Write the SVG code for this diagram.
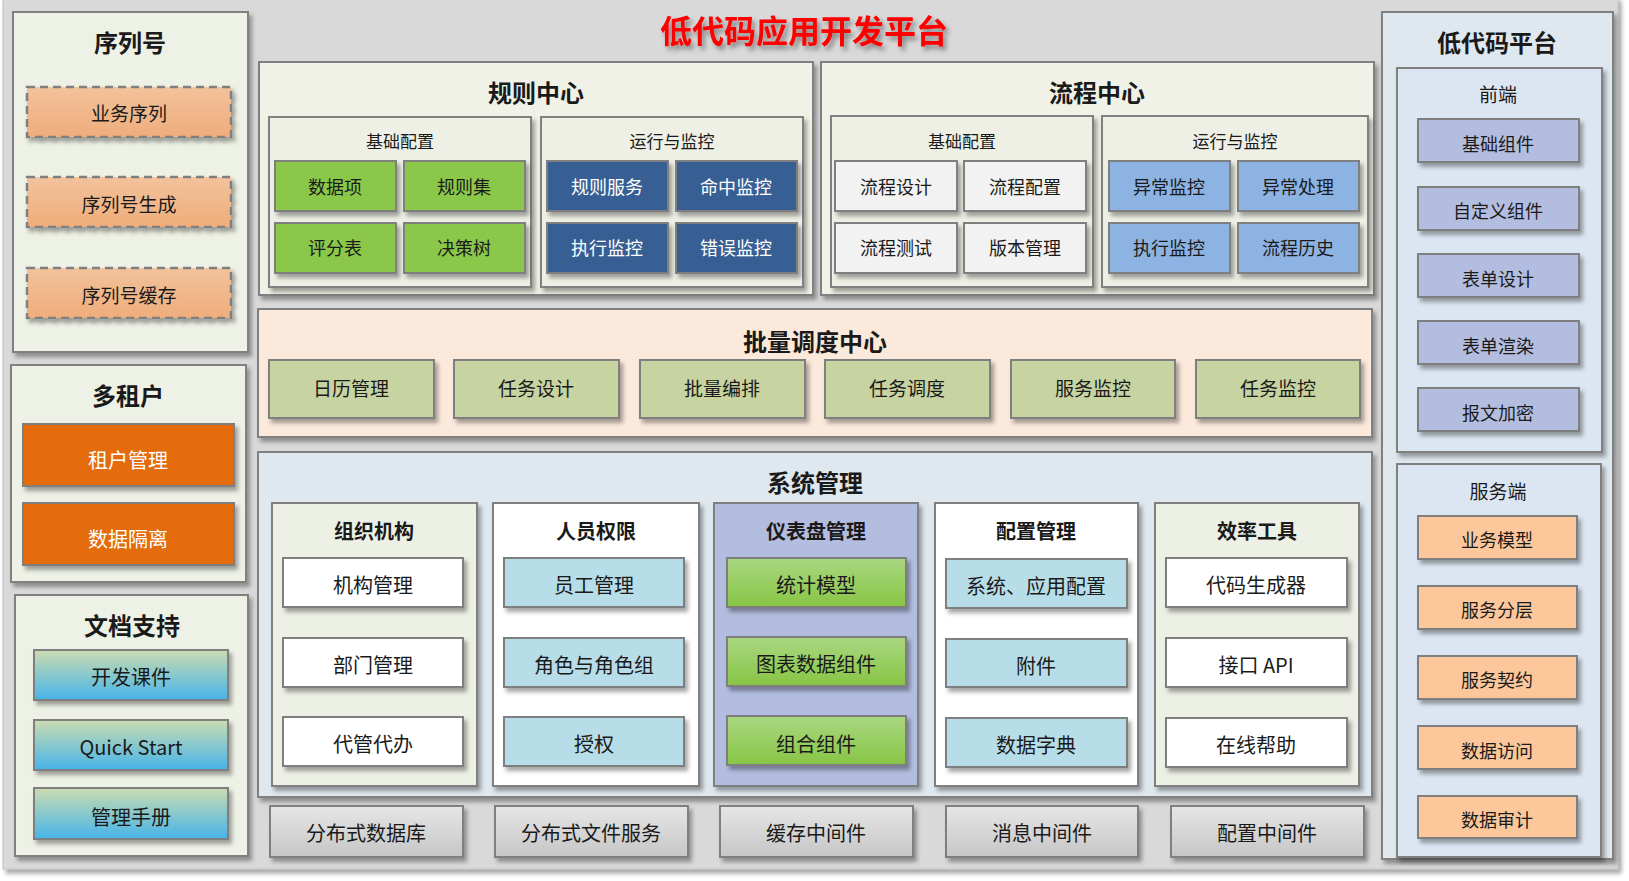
<svg xmlns="http://www.w3.org/2000/svg" width="1629" height="881" viewBox="0 0 1629 881">
<defs>
<filter id="sh" x="-10%" y="-10%" width="130%" height="140%">
<feDropShadow dx="3" dy="4" stdDeviation="2" flood-color="#000" flood-opacity="0.35"/>
</filter>
<filter id="tsh" x="-10%" y="-30%" width="130%" height="180%">
<feDropShadow dx="3" dy="4" stdDeviation="2.5" flood-color="#000" flood-opacity="0.4"/>
</filter>
<linearGradient id="gPeach" x1="0" y1="0" x2="0" y2="1"><stop offset="0" stop-color="#f2c29c"/><stop offset="1" stop-color="#efad7b"/></linearGradient>
<linearGradient id="gDoc" x1="0" y1="0" x2="0" y2="1"><stop offset="0" stop-color="#cbdcb0"/><stop offset="1" stop-color="#46b4ea"/></linearGradient>
<linearGradient id="gGreen" x1="0" y1="0" x2="0" y2="1"><stop offset="0" stop-color="#a9d781"/><stop offset="1" stop-color="#88c545"/></linearGradient>
<linearGradient id="gGrey" x1="0" y1="0" x2="0" y2="1"><stop offset="0" stop-color="#e6e6e6"/><stop offset="1" stop-color="#c6c6c6"/></linearGradient>
</defs>
<style>
text{font-family:"Noto Sans CJK SC","Noto Sans",sans-serif;fill:#1a1a1a;text-anchor:middle;dominant-baseline:central}
.pan{stroke:#808080;stroke-width:2;filter:url(#sh)}
.box{stroke:#7f7f7f;stroke-width:2;filter:url(#sh)}
.t24{font-size:24px;font-weight:bold}
.t20b{font-size:20px;font-weight:bold}
.t20{font-size:20px}
.t19{font-size:19px}
.t18{font-size:18px}
.t17{font-size:17px}
.w{fill:#ffffff}
.dash{stroke:#7f7f7f;stroke-width:2.5;stroke-dasharray:8 5;fill:url(#gPeach);filter:url(#sh)}
</style>
<rect x="0" y="0" width="1629" height="881" fill="#ffffff"/>
<rect x="3" y="-3" width="1615" height="872" fill="#d9d9d9" stroke="#bfbfbf" stroke-width="1" filter="url(#sh)"/>

<text x="804" y="29" font-size="32" font-weight="bold" style="fill:#ff0000" filter="url(#tsh)">低代码应用开发平台</text>

<g id="xuliehao">
<rect class="pan" x="13" y="12" width="235" height="340" fill="#eef1e6"/>
<text class="t24" x="130" y="41">序列号</text>
<rect class="dash" x="27" y="87" width="204" height="50"/>
<text class="t19" x="129" y="112">业务序列</text>
<rect class="dash" x="27" y="177" width="204" height="50"/>
<text class="t19" x="129" y="203">序列号生成</text>
<rect class="dash" x="27" y="268" width="204" height="50"/>
<text class="t19" x="129" y="294">序列号缓存</text>
</g>

<g id="duozuhu">
<rect class="pan" x="11" y="365" width="235" height="217" fill="#eef1e6"/>
<text class="t24" x="128" y="394">多租户</text>
<rect class="box" x="23" y="424" width="211" height="62" fill="#e46c0a"/>
<text class="t20 w" x="128" y="459">租户管理</text>
<rect class="box" x="23" y="503" width="211" height="62" fill="#e46c0a"/>
<text class="t20 w" x="128" y="538">数据隔离</text>
</g>

<g id="wendang">
<rect class="pan" x="15" y="595" width="233" height="261" fill="#eef1e6"/>
<text class="t24" x="132" y="624">文档支持</text>
<rect class="box" x="34" y="650" width="194" height="50" fill="url(#gDoc)"/>
<text class="t20" x="131" y="676">开发课件</text>
<rect class="box" x="34" y="720" width="194" height="50" fill="url(#gDoc)"/>
<text class="t20" x="131" y="746">Quick Start</text>
<rect class="box" x="34" y="788" width="194" height="51" fill="url(#gDoc)"/>
<text class="t20" x="131" y="816">管理手册</text>
</g>

<g id="guize">
<rect class="pan" x="259" y="62" width="554" height="233" fill="#f0f2e7"/>
<text class="t24" x="536" y="91">规则中心</text>
<rect class="pan" x="269" y="117" width="262" height="170" fill="#eef0e6"/>
<text class="t17" x="400" y="140">基础配置</text>
<rect class="box" x="275" y="161" width="121" height="50" fill="#8bc84a"/>
<text class="t18" x="335" y="186">数据项</text>
<rect class="box" x="404" y="161" width="121" height="50" fill="#8bc84a"/>
<text class="t18" x="464" y="186">规则集</text>
<rect class="box" x="275" y="223" width="121" height="50" fill="#8bc84a"/>
<text class="t18" x="335" y="247">评分表</text>
<rect class="box" x="404" y="223" width="121" height="50" fill="#8bc84a"/>
<text class="t18" x="464" y="247">决策树</text>
<rect class="pan" x="541" y="117" width="262" height="170" fill="#eef0e6"/>
<text class="t17" x="672" y="140">运行与监控</text>
<rect class="box" x="547" y="161" width="121" height="50" fill="#375e93"/>
<text class="t18 w" x="607" y="186">规则服务</text>
<rect class="box" x="676" y="161" width="121" height="50" fill="#375e93"/>
<text class="t18 w" x="736" y="186">命中监控</text>
<rect class="box" x="547" y="223" width="121" height="50" fill="#375e93"/>
<text class="t18 w" x="607" y="247">执行监控</text>
<rect class="box" x="676" y="223" width="121" height="50" fill="#375e93"/>
<text class="t18 w" x="736" y="247">错误监控</text>
</g>

<g id="liucheng">
<rect class="pan" x="821" y="62" width="553" height="233" fill="#f0f2e7"/>
<text class="t24" x="1097" y="91">流程中心</text>
<rect class="pan" x="831" y="116" width="262" height="171" fill="#eef0e6"/>
<text class="t17" x="962" y="140">基础配置</text>
<rect class="box" x="835" y="161" width="122" height="50" fill="#f2f2f2"/>
<text class="t18" x="896" y="186">流程设计</text>
<rect class="box" x="964" y="161" width="122" height="50" fill="#f2f2f2"/>
<text class="t18" x="1025" y="186">流程配置</text>
<rect class="box" x="835" y="223" width="122" height="50" fill="#f2f2f2"/>
<text class="t18" x="896" y="247">流程测试</text>
<rect class="box" x="964" y="223" width="122" height="50" fill="#f2f2f2"/>
<text class="t18" x="1025" y="247">版本管理</text>
<rect class="pan" x="1102" y="116" width="266" height="171" fill="#eef0e6"/>
<text class="t17" x="1235" y="140">运行与监控</text>
<rect class="box" x="1109" y="161" width="121" height="50" fill="#8db3e2"/>
<text class="t18" x="1169" y="186">异常监控</text>
<rect class="box" x="1238" y="161" width="121" height="50" fill="#8db3e2"/>
<text class="t18" x="1298" y="186">异常处理</text>
<rect class="box" x="1109" y="223" width="121" height="50" fill="#8db3e2"/>
<text class="t18" x="1169" y="247">执行监控</text>
<rect class="box" x="1238" y="223" width="121" height="50" fill="#8db3e2"/>
<text class="t18" x="1298" y="247">流程历史</text>
</g>

<g id="piliang">
<rect class="pan" x="258" y="309" width="1114" height="128" fill="#fbe9db"/>
<text class="t24" x="815" y="340">批量调度中心</text>
<rect class="box" x="269" y="360" width="165" height="58" fill="#c7d4a2"/>
<text class="t19" x="351" y="387">日历管理</text>
<rect class="box" x="454" y="360" width="165" height="58" fill="#c7d4a2"/>
<text class="t19" x="536" y="387">任务设计</text>
<rect class="box" x="640" y="360" width="165" height="58" fill="#c7d4a2"/>
<text class="t19" x="722" y="387">批量编排</text>
<rect class="box" x="825" y="360" width="165" height="58" fill="#c7d4a2"/>
<text class="t19" x="907" y="387">任务调度</text>
<rect class="box" x="1011" y="360" width="164" height="58" fill="#c7d4a2"/>
<text class="t19" x="1093" y="387">服务监控</text>
<rect class="box" x="1196" y="360" width="164" height="58" fill="#c7d4a2"/>
<text class="t19" x="1278" y="387">任务监控</text>
</g>

<g id="xitong">
<rect class="pan" x="258" y="452" width="1114" height="345" fill="#dfe8ef"/>
<text class="t24" x="815" y="481">系统管理</text>
</g>

<g id="zuzhi">
<rect class="pan" x="272" y="503" width="205" height="283" fill="#edf0e5"/>
<text class="t20b" x="374" y="530">组织机构</text>
<rect class="box" x="283" y="558" width="180" height="49" fill="#ffffff"/>
<text class="t20" x="373" y="584">机构管理</text>
<rect class="box" x="283" y="638" width="180" height="49" fill="#ffffff"/>
<text class="t20" x="373" y="664">部门管理</text>
<rect class="box" x="283" y="717" width="180" height="49" fill="#ffffff"/>
<text class="t20" x="373" y="743">代管代办</text>
</g>

<g id="renyuan">
<rect class="pan" x="493" y="503" width="206" height="283" fill="#ffffff"/>
<text class="t20b" x="596" y="530">人员权限</text>
<rect class="box" x="504" y="558" width="180" height="49" fill="#b7dde8"/>
<text class="t20" x="594" y="584">员工管理</text>
<rect class="box" x="504" y="638" width="180" height="49" fill="#b7dde8"/>
<text class="t20" x="594" y="664">角色与角色组</text>
<rect class="box" x="504" y="717" width="180" height="49" fill="#b7dde8"/>
<text class="t20" x="594" y="743">授权</text>
</g>

<g id="yibiaopan">
<rect class="pan" x="714" y="503" width="204" height="283" fill="#b3bde0"/>
<text class="t20b" x="816" y="530">仪表盘管理</text>
<rect class="box" x="727" y="558" width="179" height="49" fill="url(#gGreen)"/>
<text class="t20" x="816" y="584">统计模型</text>
<rect class="box" x="727" y="637" width="179" height="49" fill="url(#gGreen)"/>
<text class="t20" x="816" y="663">图表数据组件</text>
<rect class="box" x="727" y="716" width="179" height="49" fill="url(#gGreen)"/>
<text class="t20" x="816" y="743">组合组件</text>
</g>

<g id="peizhi">
<rect class="pan" x="935" y="503" width="203" height="283" fill="#ffffff"/>
<text class="t20b" x="1036" y="530">配置管理</text>
<rect class="box" x="946" y="559" width="181" height="49" fill="#b7dde8"/>
<text class="t20" x="1036" y="585">系统、应用配置</text>
<rect class="box" x="946" y="639" width="181" height="48" fill="#b7dde8"/>
<text class="t20" x="1036" y="665">附件</text>
<rect class="box" x="946" y="718" width="181" height="49" fill="#b7dde8"/>
<text class="t20" x="1036" y="744">数据字典</text>
</g>

<g id="xiaolv">
<rect class="pan" x="1155" y="503" width="204" height="283" fill="#edf0e5"/>
<text class="t20b" x="1257" y="530">效率工具</text>
<rect class="box" x="1166" y="558" width="181" height="49" fill="#ffffff"/>
<text class="t20" x="1256" y="584">代码生成器</text>
<rect class="box" x="1166" y="638" width="181" height="49" fill="#ffffff"/>
<text class="t20" x="1256" y="664">接口 API</text>
<rect class="box" x="1166" y="718" width="181" height="49" fill="#ffffff"/>
<text class="t20" x="1256" y="744">在线帮助</text>
</g>

<g id="zhongjianjian">
<rect class="box" x="270" y="806" width="193" height="51" fill="url(#gGrey)"/>
<text class="t20" x="366" y="832">分布式数据库</text>
<rect class="box" x="495" y="806" width="193" height="51" fill="url(#gGrey)"/>
<text class="t20" x="591" y="832">分布式文件服务</text>
<rect class="box" x="720" y="806" width="193" height="51" fill="url(#gGrey)"/>
<text class="t20" x="816" y="832">缓存中间件</text>
<rect class="box" x="946" y="806" width="192" height="51" fill="url(#gGrey)"/>
<text class="t20" x="1042" y="832">消息中间件</text>
<rect class="box" x="1171" y="806" width="193" height="51" fill="url(#gGrey)"/>
<text class="t20" x="1267" y="832">配置中间件</text>
</g>

<g id="pingtai">
<rect class="pan" x="1382" y="12" width="231" height="847" fill="#dfe8ef"/>
<text class="t24" x="1497" y="41">低代码平台</text>
</g>

<g id="qianduan">
<rect class="pan" x="1397" y="68" width="205" height="384" fill="#dce6f2"/>
<text class="t19" x="1498" y="93">前端</text>
<rect class="box" x="1418" y="119" width="161" height="43" fill="#b3bde0"/>
<text class="t18" x="1498" y="143">基础组件</text>
<rect class="box" x="1418" y="187" width="161" height="43" fill="#b3bde0"/>
<text class="t18" x="1498" y="210">自定义组件</text>
<rect class="box" x="1418" y="254" width="161" height="43" fill="#b3bde0"/>
<text class="t18" x="1498" y="278">表单设计</text>
<rect class="box" x="1418" y="321" width="161" height="43" fill="#b3bde0"/>
<text class="t18" x="1498" y="345">表单渲染</text>
<rect class="box" x="1418" y="388" width="161" height="43" fill="#b3bde0"/>
<text class="t18" x="1498" y="412">报文加密</text>
</g>

<g id="fuwuduan">
<rect class="pan" x="1397" y="464" width="204" height="393" fill="#dce6f2"/>
<text class="t19" x="1498" y="490">服务端</text>
<rect class="box" x="1418" y="516" width="159" height="43" fill="#fcc89b"/>
<text class="t18" x="1497" y="539">业务模型</text>
<rect class="box" x="1418" y="586" width="159" height="43" fill="#fcc89b"/>
<text class="t18" x="1497" y="609">服务分层</text>
<rect class="box" x="1418" y="656" width="159" height="43" fill="#fcc89b"/>
<text class="t18" x="1497" y="679">服务契约</text>
<rect class="box" x="1418" y="726" width="159" height="43" fill="#fcc89b"/>
<text class="t18" x="1497" y="750">数据访问</text>
<rect class="box" x="1418" y="796" width="159" height="42" fill="#fcc89b"/>
<text class="t18" x="1497" y="819">数据审计</text>
</g>

<g id="connectors"></g>
</svg>
